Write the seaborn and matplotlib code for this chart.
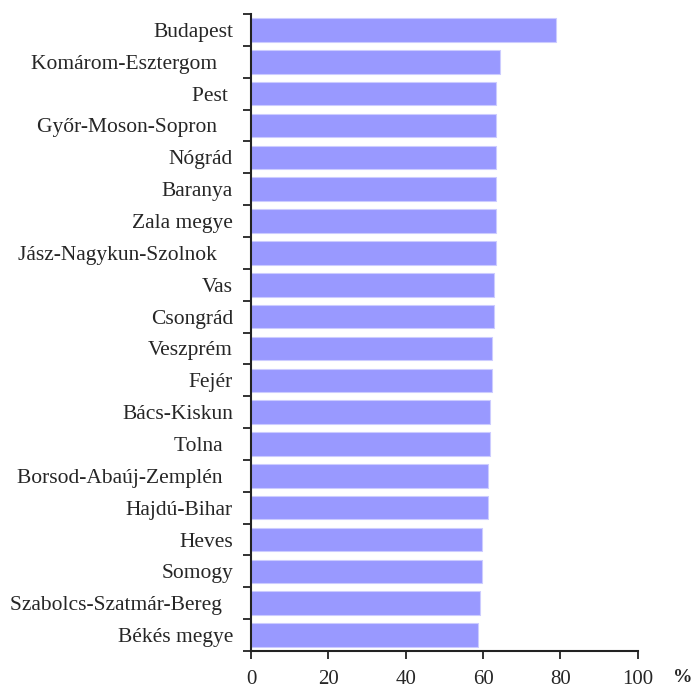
import matplotlib
matplotlib.use("Agg")
import matplotlib.pyplot as plt
import numpy as np
import pandas as pd
import seaborn as sns


COUNTIES = [
    "Budapest", "Komárom-Esztergom   ", "Pest ", "Győr-Moson-Sopron   ", "Nógrád",
    "Baranya", "Zala megye", "Jász-Nagykun-Szolnok   ", "Vas", "Csongrád",
    "Veszprém", "Fejér", "Bács-Kiskun", "Tolna  ", "Borsod-Abaúj-Zemplén  ",
    "Hajdú-Bihar", "Heves", "Somogy", "Szabolcs-Szatmár-Bereg  ", "Békés megye",
]
VALUES = [
    78.9, 64.4, 63.4, 63.4, 63.4,
    63.4, 63.4, 63.4, 62.9, 62.9,
    62.3, 62.3, 61.8, 61.8, 61.3,
    61.3, 59.8, 59.8, 59.2, 58.7,
]
X_TICKS = [0, 20, 40, 60, 80, 100]


def main() -> None:
    sns.set_style("white")
    plt.rcParams["font.family"] = ["Liberation Serif", "DejaVu Serif"]

    df = pd.DataFrame({"county": COUNTIES, "value": VALUES})

    fig = plt.figure(figsize=(6.94, 6.90), dpi=100)
    ax = fig.add_axes([0.3617, 0.0565, 0.919 - 0.3617, 0.9797 - 0.0565])

    sns.barplot(df, x="value", y="county", orient="h", color="#9999ff",
                saturation=1, width=0.74, edgecolor="#ccccff", linewidth=0.8, ax=ax)

    ax.set_xlim(0, 100)
    ax.set_ylim(len(COUNTIES) - 0.5, -0.5)
    ax.set_xticks(X_TICKS)
    ax.set_xticklabels([str(t) for t in X_TICKS], fontsize=15)
    ax.set_yticks(np.arange(len(COUNTIES)))
    ax.set_yticklabels(COUNTIES, fontsize=15.5)
    ax.set_yticks(np.arange(len(COUNTIES) + 1) - 0.5, minor=True)

    ax.tick_params(axis="y", which="major", left=True, length=0, pad=13)
    ax.tick_params(axis="y", which="minor", left=True, length=6, width=1.3,
                   color="#222222", direction="out")
    ax.tick_params(axis="x", which="major", bottom=True, length=6, width=1.3,
                   color="#222222", direction="out", pad=8)

    for side in ["top", "right"]:
        ax.spines[side].set_visible(False)
    for side in ["left", "bottom"]:
        ax.spines[side].set_color("#222222")
        ax.spines[side].set_linewidth(1.5)

    ax.set_xlabel("")
    ax.set_ylabel("")
    ax.text(1.116, -0.042, "%", transform=ax.transAxes, fontsize=14,
            fontweight="bold", ha="center", va="center")

    fig.savefig("out.png", dpi=100)
    plt.close(fig)


if __name__ == "__main__":
    main()
